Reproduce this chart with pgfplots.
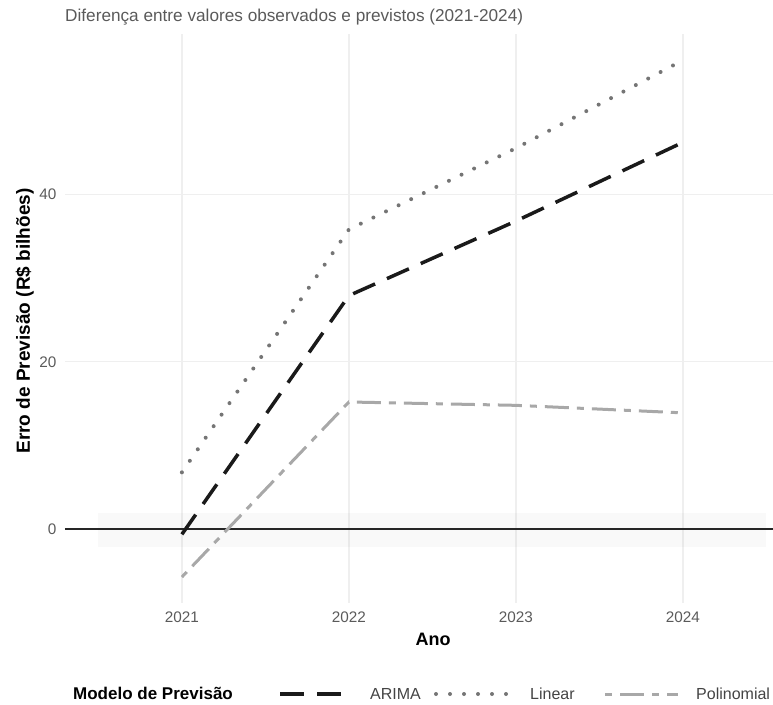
\documentclass[border=0pt]{standalone}
\usepackage{pgfplots}
\pgfplotsset{compat=1.18}
\usepackage{fontspec}
\setmainfont{Liberation Sans}
\definecolor{gridc}{HTML}{EFEFEF}
\definecolor{tickc}{HTML}{5A5A5A}
\definecolor{subc}{HTML}{5A5A5A}
\definecolor{legc}{HTML}{444444}
\definecolor{arimac}{HTML}{1A1A1A}
\definecolor{linc}{HTML}{757575}
\definecolor{polc}{HTML}{A8A8A8}
\tikzset{
  arima/.style={draw=arimac, line width=3.5pt, dash pattern=on 24pt off 13pt},
  linearst/.style={draw=linc, line width=4pt, line cap=round, dash pattern=on 0pt off 14pt},
  poli/.style={draw=polc, line width=3pt, dash pattern=on 7pt off 8pt on 24pt off 8pt},
}
\begin{document}
\begin{tikzpicture}[x=1pt,y=1pt]
\begin{axis}[
  at={(0,0)}, anchor=south west, scale only axis,
  width=734.8pt, height=568.7pt,
  xmin=2020.3, xmax=2024.7, ymin=-8.8, ymax=59.1,
  xtick={2021,2022,2023,2024}, ytick={0,20,40},
  xticklabels={2021,2022,2023,2024},
  yticklabels={0,20,40},
  grid=major, major grid style={draw=gridc, line width=1.2pt},
  axis line style={draw=none}, major tick length=0pt,
  tick style={draw=none},
  /pgf/number format/assume math mode=true,
  ticklabel style={font=\fontsize{15.3}{16}\selectfont, text=tickc},
  xticklabel style={yshift=-5pt},
  yticklabel style={xshift=-5pt},
  clip=false,
]
\fill[black, opacity=0.025] (axis cs:2020.5,-2.15) rectangle (axis cs:2024.5,2.0);
\addplot[draw=black!85, line width=2.4pt, forget plot] coordinates {(2020.3,0) (2024.7,0)};
\addplot[arima] coordinates {(2021,-0.6) (2022,27.9) (2023,36.8) (2024,46.2)};
\addplot[linearst] coordinates {(2021,6.8) (2022,35.8) (2023,45.5) (2024,56.0)};
\addplot[poli] coordinates {(2021,-5.7) (2022,15.2) (2023,14.8) (2024,13.9)};
\end{axis}
\node[anchor=base west, font=\fontsize{17.2}{18}\selectfont, text=subc, inner sep=0] at (0,581) {Diferença entre valores observados e previstos (2021-2024)};
\node[rotate=90, anchor=base, font=\bfseries\fontsize{19}{20}\selectfont, inner sep=0] at (-35,282) {Erro de Previsão (R\$ bilhões)};
\node[anchor=base, font=\bfseries\fontsize{18}{20}\selectfont, inner sep=0] at (368,-42) {Ano};
\node[anchor=base west, font=\bfseries\fontsize{17}{18}\selectfont, inner sep=0] at (8,-96) {Modelo de Previsão};
\draw[arima] (215,-91) -- (287,-91);
\node[anchor=base west, font=\fontsize{16}{18}\selectfont, text=legc, inner sep=0] at (305,-96) {ARIMA};
\draw[linearst] (371,-91) -- (443,-91);
\node[anchor=base west, font=\fontsize{16}{18}\selectfont, text=legc, inner sep=0] at (465,-96) {Linear};
\draw[poli] (540,-91) -- (613,-91);
\node[anchor=base west, font=\fontsize{16}{18}\selectfont, text=legc, inner sep=0] at (631,-96) {Polinomial};
\pgfresetboundingbox
\useasboundingbox (-65,-101) rectangle (708,603);
\end{tikzpicture}
\end{document}
